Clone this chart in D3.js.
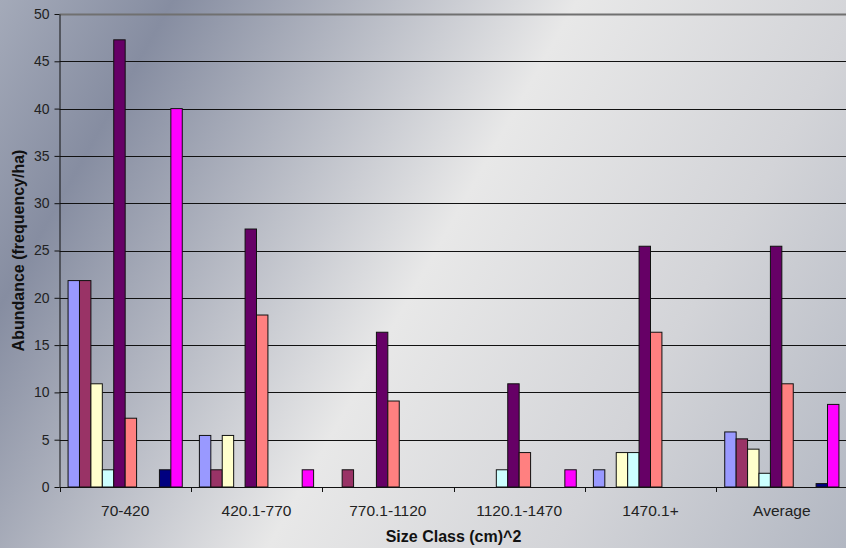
<!DOCTYPE html>
<html>
<head>
<meta charset="utf-8">
<script src="https://cdn.jsdelivr.net/npm/d3@7/dist/d3.min.js"></script>
<style>
  html, body { margin: 0; padding: 0; background: #fff; }
  svg { display: block; font-family: "Liberation Sans", Arial, sans-serif; }
</style>
</head>
<body>
<svg id="chart" width="846" height="548"></svg>
<script>
// Size classes along the x axis
const categories = ["70-420", "420.1-770", "770.1-1120", "1120.1-1470", "1470.1+", "Average"];

// Abundance (frequency/ha) for each series, one value per size class
const series1  = [21.82, 5.45, 0, 0, 1.82, 5.82];
const series2  = [21.82, 1.82, 1.82, 0, 0, 5.09];
const series3  = [10.91, 5.45, 0, 0, 3.64, 4.0];
const series4  = [1.82, 0, 0, 1.82, 3.64, 1.45];
const series5  = [47.27, 27.27, 16.36, 10.91, 25.45, 25.45];
const series6  = [7.27, 18.18, 9.09, 3.64, 16.36, 10.91];
const series7  = [0, 0, 0, 0, 0, 0];
const series8  = [0, 0, 0, 0, 0, 0];
const series9  = [1.82, 0, 0, 0, 0, 0.36];
const series10 = [40, 1.82, 0, 1.82, 0, 8.73];

const seriesValues = [series1, series2, series3, series4, series5, series6, series7, series8, series9, series10];
const seriesColors = ["#9999FF", "#993366", "#FFFFCC", "#CCFFFF", "#660066", "#FF8080", "#0066CC", "#CCCCFF", "#000080", "#FF00FF"];

const yTicks = [0, 5, 10, 15, 20, 25, 30, 35, 40, 45, 50];
const yTitle = "Abundance (frequency/ha)";
const xTitle = "Size Class (cm)^2";

const W = 846, H = 548;
const plot = { left: 59.5, right: 847.5, top: 14, bottom: 487 };

const svg = d3.select("#chart");

// Diagonal background wash
const defs = svg.append("defs");
const grad = defs.append("linearGradient")
  .attr("id", "bg")
  .attr("gradientUnits", "userSpaceOnUse")
  .attr("x1", 0).attr("y1", 0).attr("x2", 875).attr("y2", 495);
[[0, "#a4aab9"], [0.15, "#868da1"], [0.5, "#e8e8e8"], [0.75, "#d3d4d8"], [1, "#b2b7c2"]]
  .forEach(([o, c]) => grad.append("stop").attr("offset", o).attr("stop-color", c));
svg.append("rect").attr("width", W).attr("height", H).attr("fill", "url(#bg)");

const x0 = d3.scaleBand().domain(categories).range([plot.left, plot.right]).paddingInner(0).paddingOuter(0);
const x1 = d3.scaleBand().domain(d3.range(seriesValues.length)).range([0, x0.bandwidth()])
  .paddingInner(0).paddingOuter(0.75);
const y = d3.scaleLinear().domain([0, 50]).range([plot.bottom, plot.top]);

// Horizontal gridlines
svg.append("g").selectAll("line")
  .data(yTicks.filter(t => t > 0))
  .join("line")
  .attr("x1", plot.left).attr("x2", W)
  .attr("y1", d => Math.round(y(d)) + 0.5).attr("y2", d => Math.round(y(d)) + 0.5)
  .attr("stroke", d => d === 50 ? "#707070" : "#111")
  .attr("stroke-width", d => d === 50 ? 2 : 1);

// Bars
const bars = [];
categories.forEach((c, ci) => {
  seriesValues.forEach((s, si) => {
    if (s[ci] > 0) bars.push({ cat: c, si, value: s[ci] });
  });
});
svg.append("g").selectAll("rect")
  .data(bars)
  .join("rect")
  .attr("x", d => x0(d.cat) + x1(d.si))
  .attr("y", d => y(d.value))
  .attr("width", x1.bandwidth())
  .attr("height", d => y(0) - y(d.value))
  .attr("fill", d => seriesColors[d.si])
  .attr("stroke", "#111")
  .attr("stroke-width", 1);

// Y axis
const yAxis = svg.append("g")
  .attr("transform", `translate(${plot.left},0)`)
  .call(d3.axisLeft(y).tickValues(yTicks).tickSize(5).tickPadding(5).tickSizeOuter(0));
yAxis.select(".domain").attr("stroke", "#111");
yAxis.selectAll(".tick line").attr("stroke", "#111");
yAxis.selectAll(".tick text")
  .attr("fill", "#222").attr("font-size", 14).attr("font-family", "Liberation Sans, Arial, sans-serif");

// X axis: ticks on category boundaries, labels centred in each band
const xAxis = svg.append("g").attr("transform", `translate(0,${plot.bottom})`);
xAxis.append("line")
  .attr("x1", plot.left).attr("x2", W).attr("y1", 0.5).attr("y2", 0.5)
  .attr("stroke", "#111");
const bounds = categories.map(c => x0(c)).concat([x0(categories[categories.length - 1]) + x0.bandwidth()]);
xAxis.selectAll("line.tk")
  .data(bounds)
  .join("line").attr("class", "tk")
  .attr("x1", d => Math.round(d) + 0.5).attr("x2", d => Math.round(d) + 0.5)
  .attr("y1", 0).attr("y2", 5)
  .attr("stroke", "#111");
xAxis.selectAll("text")
  .data(categories)
  .join("text")
  .attr("x", d => x0(d) + x0.bandwidth() / 2)
  .attr("y", 29)
  .attr("text-anchor", "middle")
  .attr("font-size", 15.5)
  .attr("fill", "#222")
  .text(d => d);

// Axis titles
svg.append("text")
  .attr("transform", `translate(24,${(plot.top + plot.bottom) / 2}) rotate(-90)`)
  .attr("text-anchor", "middle")
  .attr("font-size", 16).attr("font-weight", "bold").attr("fill", "#111")
  .text(yTitle);
svg.append("text")
  .attr("x", (plot.left + plot.right) / 2)
  .attr("y", 542)
  .attr("text-anchor", "middle")
  .attr("font-size", 16).attr("font-weight", "bold").attr("fill", "#111")
  .text(xTitle);
</script>
</body>
</html>
